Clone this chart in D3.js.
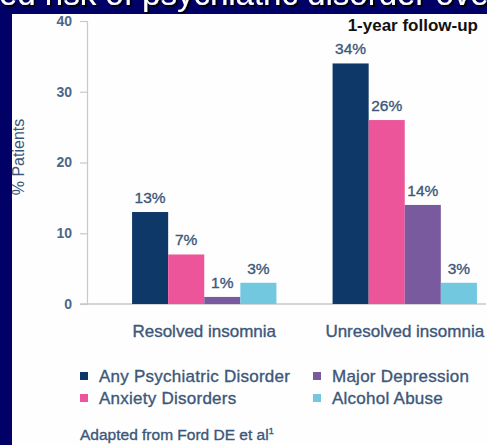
<!DOCTYPE html>
<html>
<head>
<meta charset="utf-8">
<script src="https://cdn.jsdelivr.net/npm/d3@7"></script>
<style>
  html, body { margin: 0; padding: 0; background: #000066; }
  svg { display: block; }
  text { font-family: "Liberation Sans", Arial, Helvetica, sans-serif; }
</style>
</head>
<body>
<svg id="chart" width="487" height="445"></svg>
<script>
// Data
const categories = ["Resolved insomnia", "Unresolved insomnia"];
const seriesNames = ["Any Psychiatric Disorder", "Anxiety Disorders", "Major Depression", "Alcohol Abuse"];
const seriesColors = ["#0d3867", "#ec559a", "#795a9e", "#72c8df"];
const anyPsychiatric = [13, 34];
const anxiety = [7, 26];
const majorDepression = [1, 14];
const alcoholAbuse = [3, 3];
const yTicks = [0, 10, 20, 30, 40];
const titleText = "Increased risk of psychiatric disorder over time";
const subtitleText = "1-year follow-up";
const yLabel = "% Patients";
const sourceText = "Adapted from Ford DE et al";

const seriesValues = [anyPsychiatric, anxiety, majorDepression, alcoholAbuse];

const svg = d3.select("#chart");
const W = 487, H = 445;

// Drop shadow for the slide title
const defs = svg.append("defs");
defs.append("filter").attr("id", "titleShadow")
  .attr("x", "-5%").attr("y", "-50%").attr("width", "110%").attr("height", "200%")
  .append("feDropShadow")
  .attr("dx", 2).attr("dy", 2).attr("stdDeviation", 0.6)
  .attr("flood-color", "#000000").attr("flood-opacity", 0.9);

// Slide background and white content panel
svg.append("rect").attr("width", W).attr("height", H).attr("fill", "#000066");
svg.append("rect").attr("x", 12).attr("y", 14).attr("width", W - 12).attr("height", H - 14).attr("fill", "#fefefe");

// Slide title, running off the top-left edge
const title = svg.append("text")
  .attr("y", 5)
  .attr("font-size", 33)
  .attr("fill", "#ffffff")
  .attr("filter", "url(#titleShadow)")
  .text("Increas");
const prefixW = title.node().getComputedTextLength();
title.attr("x", -prefixW - 1).text(titleText);

// Scales
const y = d3.scaleLinear().domain([0, 40]).range([304, 21]);
const x0 = d3.scaleBand().domain(categories).range([104, 505]).paddingInner(0.28).paddingOuter(0.14);
const x1 = d3.scaleBand().domain(seriesNames).range([0, x0.bandwidth()]).padding(0);

const axisColor = "#c9c9c9";
const labelColor = "#3c5779";

// Slightly heavier strokes on the body text
function medium(sel) {
  return sel.attr("stroke", labelColor).attr("stroke-width", 0.35);
}

// Y axis
const yAxis = svg.append("g")
  .attr("transform", "translate(87,0)")
  .call(d3.axisLeft(y).tickValues(yTicks).tickSize(7).tickSizeOuter(7).tickPadding(8));
yAxis.select(".domain").attr("stroke", axisColor).attr("stroke-width", 1.2);
yAxis.selectAll(".tick line").attr("stroke", axisColor).attr("stroke-width", 1.2);
yAxis.selectAll(".tick text")
  .attr("font-size", 14).attr("font-weight", "bold").attr("fill", "#4d6787")
  .attr("font-family", "'Liberation Sans', Arial, sans-serif");

// Baseline
svg.append("line")
  .attr("x1", 80).attr("x2", 486)
  .attr("y1", y(0)).attr("y2", y(0))
  .attr("stroke", axisColor).attr("stroke-width", 1.5);

// Y axis title
svg.append("text")
  .attr("transform", `translate(24,157) rotate(-90)`)
  .attr("text-anchor", "middle")
  .attr("font-size", 16)
  .attr("fill", labelColor)
  .text(yLabel);

// Bars
const groups = svg.append("g").selectAll("g")
  .data(categories)
  .join("g")
  .attr("transform", d => `translate(${x0(d)},0)`);

groups.each(function(cat, ci) {
  const g = d3.select(this);
  seriesNames.forEach((s, si) => {
    const v = seriesValues[si][ci];
    g.append("rect")
      .attr("x", x1(s))
      .attr("y", y(v))
      .attr("width", x1.bandwidth())
      .attr("height", y(0) - y(v))
      .attr("fill", seriesColors[si]);
    medium(g.append("text")
      .attr("x", x1(s) + x1.bandwidth() / 2)
      .attr("y", y(v) - 9)
      .attr("text-anchor", "middle")
      .attr("font-size", 15.5)
      .attr("fill", labelColor)
      .text(v + "%"));
  });
});

// Category labels
medium(svg.append("g").selectAll("text")
  .data(categories)
  .join("text")
  .attr("x", d => x0(d) + x0.bandwidth() / 2)
  .attr("y", 337)
  .attr("text-anchor", "middle")
  .attr("font-size", 17)
  .attr("fill", labelColor)
  .text(d => d));

// Subtitle
svg.append("text")
  .attr("x", 478).attr("y", 31)
  .attr("text-anchor", "end")
  .attr("font-size", 17)
  .attr("font-weight", "bold")
  .attr("fill", "#111111")
  .text(subtitleText);

// Legend (two columns, two rows)
const legendPos = [[80, 382], [80, 404], [313, 382], [313, 404]];
seriesNames.forEach((s, i) => {
  const [lx, ly] = legendPos[i];
  svg.append("rect")
    .attr("x", lx).attr("y", ly - 10)
    .attr("width", 8).attr("height", 8)
    .attr("fill", seriesColors[i]);
  medium(svg.append("text")
    .attr("x", lx + 19).attr("y", ly)
    .attr("font-size", 17)
    .attr("letter-spacing", 0.25)
    .attr("fill", labelColor)
    .text(s));
});

// Source note
const src = medium(svg.append("text")
  .attr("x", 80).attr("y", 440)
  .attr("font-size", 15.5)
  .attr("fill", labelColor));
src.append("tspan").text(sourceText);
src.append("tspan").attr("font-size", 9).attr("dy", -6).text("1");
</script>
</body>
</html>
